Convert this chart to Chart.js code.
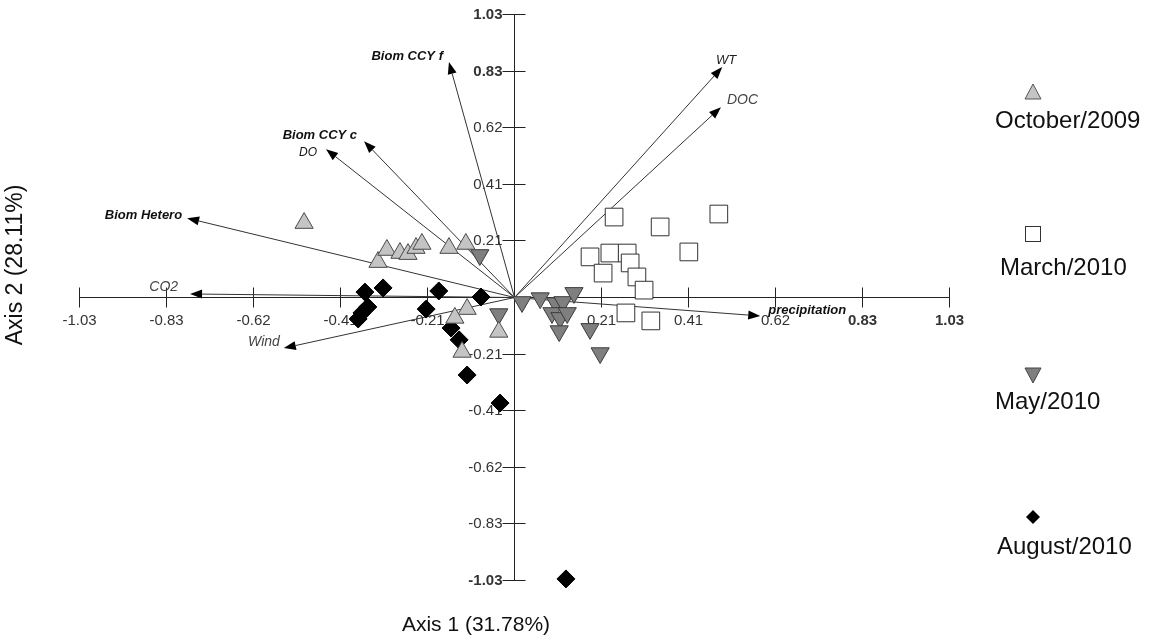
<!DOCTYPE html>
<html>
<head>
<meta charset="utf-8">
<script src="https://cdn.jsdelivr.net/npm/chart.js@4.4.1/dist/chart.umd.min.js"></script>
<style>
  html, body { margin: 0; padding: 0; background: #fff; }
  #wrap { width: 1156px; height: 643px; position: relative; }
</style>
</head>
<body>
<div id="wrap"><canvas id="c"></canvas></div>
<script>
// sample scores per campaign (axis 1, axis 2)
const octX = [-0.497, -0.322, -0.301, -0.270, -0.251, -0.232, -0.218, -0.154, -0.114, -0.111, -0.140, -0.123, -0.036];
const octY = [0.269, 0.127, 0.171, 0.160, 0.156, 0.178, 0.193, 0.178, 0.193, -0.044, -0.076, -0.200, -0.127];

const marX = [0.237, 0.346, 0.485, 0.414, 0.180, 0.227, 0.268, 0.275, 0.211, 0.291, 0.308, 0.265, 0.324];
const marY = [0.291, 0.255, 0.302, 0.164, 0.146, 0.160, 0.160, 0.124, 0.087, 0.073, 0.025, -0.058, -0.087];

const mayX = [-0.081, -0.036, 0.019, 0.062, 0.099, 0.116, 0.142, 0.090, 0.109, 0.126, 0.107, 0.180, 0.204];
const mayY = [0.153, -0.062, -0.018, -0.004, -0.022, -0.018, 0.015, -0.058, -0.076, -0.058, -0.124, -0.116, -0.204];

const augX = [-0.353, -0.310, -0.346, -0.360, -0.369, -0.178, -0.208, -0.078, -0.149, -0.130, -0.111, -0.033, 0.123];
const augY = [0.018, 0.033, -0.036, -0.058, -0.080, 0.022, -0.044, 0.000, -0.113, -0.156, -0.284, -0.386, -1.026];

const seriesNames = ['October/2009', 'March/2010', 'May/2010', 'August/2010'];

// environmental vectors
const vecNames = ['Biom CCY f', 'Biom CCY c', 'DO', 'Biom Hetero', 'CO2', 'Wind', 'precipitation', 'WT', 'DOC'];
const vecX = [-0.154, -0.355, -0.445, -0.774, -0.767, -0.545, 0.583, 0.493, 0.490];
const vecY = [0.855, 0.567, 0.538, 0.287, 0.011, -0.186, -0.069, 0.837, 0.691];

// axis ticks
const tickVals = [-1.03, -0.824, -0.618, -0.412, -0.206, 0.206, 0.412, 0.618, 0.824, 1.03];
const xTickLabels = ['-1.03', '-0.83', '-0.62', '-0.41', '-0.21', '0.21', '0.41', '0.62', '0.83', '1.03'];
const yTickLabels = ['-1.03', '-0.83', '-0.62', '-0.41', '-0.21', '0.21', '0.41', '0.62', '0.83', '1.03'];

const FONT = '"Liberation Sans", Arial, sans-serif';

// label placement for each vector, relative to its arrow tip
const vecLabelStyle = [
  { align: 'right', dx: -6, dy: -6, font: 'italic bold 13px', color: '#111' },
  { align: 'right', dx: -7, dy: -6, font: 'italic bold 13px', color: '#111' },
  { align: 'right', dx: -9, dy: 3, font: 'italic 12px', color: '#111' },
  { align: 'right', dx: -5, dy: -3, font: 'italic bold 13px', color: '#111' },
  { align: 'right', dx: -12, dy: -7, font: 'italic 14px', color: '#444' },
  { align: 'right', dx: -4, dy: -6, font: 'italic 14px', color: '#444' },
  { align: 'left', dx: 8, dy: -6, font: 'italic bold 13px', color: '#111' },
  { align: 'center', dx: 4, dy: -7, font: 'italic 13px', color: '#222' },
  { align: 'left', dx: 6, dy: -7, font: 'italic 14px', color: '#444' }
];

const toPts = (xs, ys) => xs.map((v, i) => ({ x: v, y: ys[i] }));

const biplot = {
  id: 'biplot',
  beforeDatasetsDraw(chart) {
    const { ctx, scales: { x, y } } = chart;
    const x0 = Math.round(x.getPixelForValue(0)) + 0.5;
    const y0 = Math.round(y.getPixelForValue(0)) + 0.5;
    ctx.save();
    ctx.strokeStyle = '#222';
    ctx.lineWidth = 1;
    ctx.beginPath();
    ctx.moveTo(x.getPixelForValue(-1.03), y0);
    ctx.lineTo(x.getPixelForValue(1.03), y0);
    ctx.moveTo(x0, y.getPixelForValue(1.03));
    ctx.lineTo(x0, y.getPixelForValue(-1.03));
    ctx.stroke();

    const boldX = ['1.03', '0.83'];
    const boldY = ['1.03', '0.83', '-1.03'];
    ctx.fillStyle = '#333';
    tickVals.forEach((v, i) => {
      const px = Math.round(x.getPixelForValue(v)) + 0.5;
      ctx.beginPath();
      ctx.moveTo(px, y0 - 10);
      ctx.lineTo(px, y0 + 10);
      ctx.stroke();
      ctx.font = (boldX.includes(xTickLabels[i]) ? 'bold ' : '') + '15px ' + FONT;
      ctx.textAlign = 'center';
      ctx.textBaseline = 'middle';
      ctx.fillText(xTickLabels[i], px, y0 + 23);

      const py = Math.round(y.getPixelForValue(v)) + 0.5;
      ctx.beginPath();
      ctx.moveTo(x0 - 12, py);
      ctx.lineTo(x0 + 11, py);
      ctx.stroke();
      ctx.font = (boldY.includes(yTickLabels[i]) ? 'bold ' : '') + '15px ' + FONT;
      ctx.textAlign = 'right';
      ctx.fillText(yTickLabels[i], x0 - 12, py);
    });

    // vectors
    vecNames.forEach((name, i) => {
      const tx = x.getPixelForValue(vecX[i]);
      const ty = y.getPixelForValue(vecY[i]);
      const ang = Math.atan2(ty - y0, tx - x0);
      const hl = 12, hw = 4.5;
      const bx = tx - Math.cos(ang) * hl, by = ty - Math.sin(ang) * hl;
      ctx.strokeStyle = '#333';
      ctx.beginPath();
      ctx.moveTo(x0, y0);
      ctx.lineTo(bx, by);
      ctx.stroke();
      ctx.fillStyle = '#000';
      ctx.beginPath();
      ctx.moveTo(tx, ty);
      ctx.lineTo(bx - Math.sin(ang) * hw, by + Math.cos(ang) * hw);
      ctx.lineTo(bx + Math.sin(ang) * hw, by - Math.cos(ang) * hw);
      ctx.closePath();
      ctx.fill();

      const st = vecLabelStyle[i];
      ctx.font = st.font + ' ' + FONT;
      ctx.fillStyle = st.color;
      ctx.textAlign = st.align;
      ctx.textBaseline = 'middle';
      ctx.fillText(name, tx + st.dx, ty + st.dy);
    });
    ctx.restore();
  },
  afterDraw(chart) {
    const { ctx } = chart;
    ctx.save();
    // axis titles
    ctx.fillStyle = '#111';
    ctx.textAlign = 'center';
    ctx.textBaseline = 'middle';
    ctx.font = '21px ' + FONT;
    ctx.fillText('Axis 1 (31.78%)', 476, 625);
    ctx.save();
    ctx.translate(16, 265);
    ctx.rotate(-Math.PI / 2);
    ctx.font = '23px ' + FONT;
    ctx.fillText('Axis 2 (28.11%)', 0, 0);
    ctx.restore();

    // legend
    const mx = 1033;
    const my = [92, 234, 375, 517];
    const tx = [995, 1000, 995, 997];
    const ty = [121, 268, 402, 547];
    ctx.lineWidth = 1;
    // triangle
    ctx.fillStyle = '#c4c4c4'; ctx.strokeStyle = '#555';
    ctx.beginPath();
    ctx.moveTo(mx, my[0] - 8); ctx.lineTo(mx + 8, my[0] + 7); ctx.lineTo(mx - 8, my[0] + 7); ctx.closePath();
    ctx.fill(); ctx.stroke();
    // square
    ctx.fillStyle = '#fff'; ctx.strokeStyle = '#333';
    ctx.fillRect(mx - 8, my[1] - 8, 16, 16);
    ctx.strokeRect(mx - 7.5, my[1] - 7.5, 15, 15);
    // inverted triangle
    ctx.fillStyle = '#7f7f7f'; ctx.strokeStyle = '#444';
    ctx.beginPath();
    ctx.moveTo(mx, my[2] + 8); ctx.lineTo(mx + 8, my[2] - 7); ctx.lineTo(mx - 8, my[2] - 7); ctx.closePath();
    ctx.fill(); ctx.stroke();
    // diamond
    ctx.fillStyle = '#000';
    ctx.beginPath();
    ctx.moveTo(mx, my[3] - 7); ctx.lineTo(mx + 7, my[3]); ctx.lineTo(mx, my[3] + 7); ctx.lineTo(mx - 7, my[3]); ctx.closePath();
    ctx.fill();

    ctx.fillStyle = '#111';
    ctx.font = '24px ' + FONT;
    ctx.textAlign = 'left';
    ctx.textBaseline = 'middle';
    seriesNames.forEach((n, i) => ctx.fillText(n, tx[i], ty[i]));
    ctx.restore();
  }
};

new Chart(document.getElementById('c'), {
  type: 'scatter',
  data: {
    datasets: [
      { label: seriesNames[0], data: toPts(octX, octY), pointStyle: 'triangle', pointRadius: 10.5,
        backgroundColor: '#c4c4c4', borderColor: '#4a4a4a', borderWidth: 1, clip: false },
      { label: seriesNames[1], data: toPts(marX, marY), pointStyle: 'rect', pointRadius: 12.5,
        backgroundColor: '#ffffff', borderColor: '#333333', borderWidth: 1, clip: false },
      { label: seriesNames[2], data: toPts(mayX, mayY), pointStyle: 'triangle', rotation: 180, pointRadius: 10.5,
        backgroundColor: '#7f7f7f', borderColor: '#3a3a3a', borderWidth: 1, clip: false },
      { label: seriesNames[3], data: toPts(augX, augY), pointStyle: 'rectRot', pointRadius: 9,
        backgroundColor: '#000000', borderColor: '#000000', borderWidth: 1, clip: false }
    ]
  },
  options: {
    responsive: true,
    maintainAspectRatio: false,
    animation: false,
    devicePixelRatio: 1,
    layout: { padding: { left: 79, right: 207, top: 14, bottom: 63 } },
    scales: {
      x: { type: 'linear', min: -1.03, max: 1.03, display: false },
      y: { type: 'linear', min: -1.03, max: 1.03, display: false }
    },
    plugins: {
      legend: { display: false },
      tooltip: { enabled: false }
    }
  },
  plugins: [biplot]
});
</script>
</body>
</html>
